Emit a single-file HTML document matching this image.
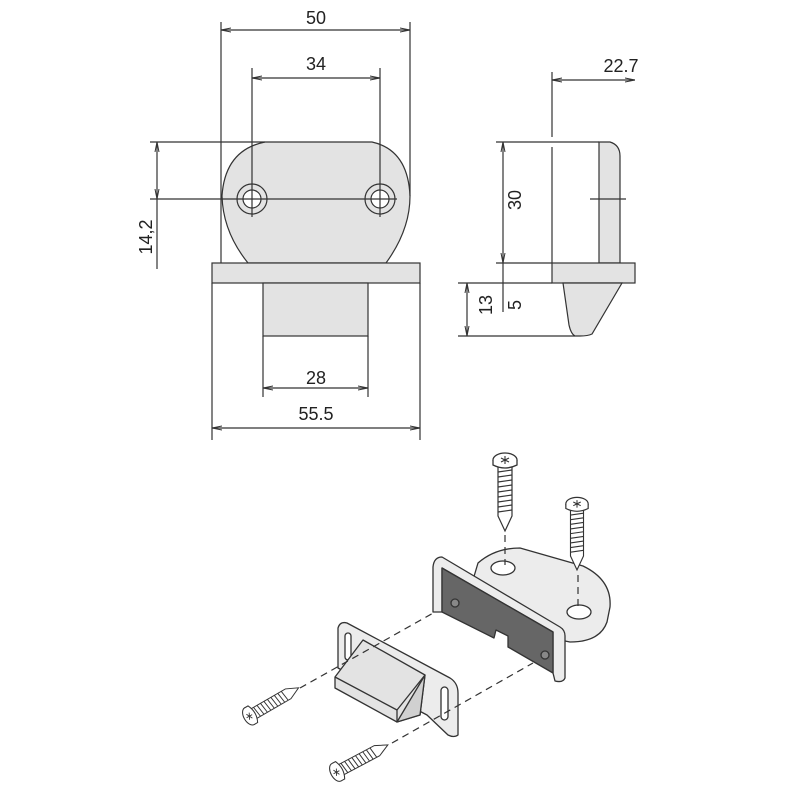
<!DOCTYPE html>
<html><head><meta charset="utf-8"><style>
html,body{margin:0;padding:0;background:#fff}
svg{display:block}
text{font-family:"Liberation Sans",sans-serif;font-size:18px;fill:#222}
</style></head><body>
<svg width="800" height="800" viewBox="0 0 800 800" xmlns="http://www.w3.org/2000/svg">
<defs>
<marker id="a" markerWidth="10" markerHeight="6" refX="10" refY="3" orient="auto-start-reverse" markerUnits="userSpaceOnUse"><path d="M0,1 L10,3 L0,5" fill="none" stroke="#333" stroke-width="1"/></marker>
<g id="scr">
<path d="M-7,8 L-7,58 L0,73 L7,58 L7,8 Z" fill="#fff" stroke="#333" stroke-width="1.2"/>
<g stroke="#333" stroke-width="1.2">
<path d="M-7,14 L7,12 M-7,19 L7,17 M-7,24 L7,22 M-7,29 L7,27 M-7,34 L7,32 M-7,39 L7,37 M-7,44 L7,42 M-7,49 L7,47 M-7,54 L7,52"/>
</g>
<ellipse cx="0" cy="2" rx="12" ry="7" fill="#fff" stroke="#333" stroke-width="1.3"/>
<path d="M-12,2 L-12,7 Q0,13 12,7 L12,2" fill="#fff" stroke="#333" stroke-width="1.3"/>
<path d="M-4,0 L4,4 M-4,4 L4,0 M0,-2 L0,6" stroke="#333" stroke-width="1.1"/>
</g>
</defs>
<g stroke="#333" stroke-width="1.2" fill="none">
<path d="M265,142 L372,142 Q408,150 410,196 Q410,230 386,263 L248,263 Q223,232 222,196 Q225,150 265,142 Z" fill="#e3e3e3"/>
<rect x="212" y="263" width="208" height="20" fill="#e3e3e3"/>
<rect x="263" y="283" width="105" height="53" fill="#e3e3e3"/>
<circle cx="252" cy="199" r="15"/><circle cx="252" cy="199" r="9" fill="#fff"/>
<circle cx="380" cy="199" r="15"/><circle cx="380" cy="199" r="9" fill="#fff"/>
<path d="M221,22 V263 M410,22 V196 M252,68 V217 M380,68 V217 M150,142 H265 M150,199 H397 M212,283 V440 M420,283 V440 M263,336 V397 M368,336 V397"/>
<path d="M221,30 H410" marker-start="url(#a)" marker-end="url(#a)"/>
<path d="M252,78 H380" marker-start="url(#a)" marker-end="url(#a)"/>
<path d="M157,142 V199" marker-start="url(#a)" marker-end="url(#a)"/>
<path d="M157,199 V269"/>
<path d="M263,388 H368" marker-start="url(#a)" marker-end="url(#a)"/>
<path d="M212,428 H420" marker-start="url(#a)" marker-end="url(#a)"/>
<path d="M599,142 L610,142 Q620,145 620,156 L620,263 L599,263 Z" fill="#e3e3e3"/>
<rect x="552" y="263" width="83" height="20" fill="#e3e3e3"/>
<path d="M563,283 L622,283 L592,334 Q588,336 580,336 L575,336 Q571,334 569,325 Z" fill="#e3e3e3"/>
<path d="M552,72 V137 M552,147 V263 M496,142 H599 M590,199 H626 M496,263 H552 M458,283 H552 M458,336 H575"/>
<path d="M552,80 H635" marker-start="url(#a)" marker-end="url(#a)"/>
<path d="M503,142 V263" marker-start="url(#a)" marker-end="url(#a)"/>
<path d="M503,263 V312"/>
<path d="M467,283 V336" marker-start="url(#a)" marker-end="url(#a)"/>
</g>
<text x="316" y="24" text-anchor="middle">50</text>
<text x="316" y="70" text-anchor="middle">34</text>
<text x="316" y="384" text-anchor="middle">28</text>
<text x="316" y="420" text-anchor="middle">55.5</text>
<text x="621" y="72" text-anchor="middle">22.7</text>
<text transform="translate(152,237) rotate(-90)" text-anchor="middle">14,2</text>
<text transform="translate(521,200) rotate(-90)" text-anchor="middle">30</text>
<text transform="translate(492,305) rotate(-90)" text-anchor="middle">13</text>
<text transform="translate(521,305) rotate(-90)" text-anchor="middle">5</text>

<g stroke="#333" stroke-width="1.3" stroke-linejoin="round">
<path d="M478,563 Q495,548 520,548 L583,566 Q612,580 610,607 L607,622 Q600,642 570,642 L560,640 L470,590 Z" fill="#ececec"/>
<ellipse cx="503" cy="568" rx="12" ry="7" fill="#fff"/>
<ellipse cx="579" cy="612" rx="12" ry="7" fill="#fff"/>
<path d="M433,567 Q434,557 442,557 L560,627 Q565,630 565,636 L565,678 Q563,683 555,681 L553,673 L553,632 L442,568 L442,612 L433,612 Z" fill="#ececec"/>
<path d="M442,568 L553,632 L553,673 L508,647 L508,636 L496,630 L494,638 L442,612 Z" fill="#666"/>
<circle cx="455" cy="603" r="4" fill="#888"/><circle cx="545" cy="655" r="4" fill="#888"/>
<path d="M338,668 L338,628 Q340,621 347,623 L450,678 Q458,683 458,693 L458,735 Q454,738 448,735 L427,715 Z" fill="#ececec"/>
<rect x="345" y="633" width="6" height="27" rx="3" fill="#fff"/>
<rect x="441" y="687" width="7" height="33" rx="3.5" fill="#fff"/>
<path d="M335,677 L363,640 L425,675 L420,715 L397,722 L335,688 Z" fill="#e3e3e3"/>
<path d="M397,722 L425,675 L420,715 Z" fill="#d0d0d0"/>
<path d="M335,677 L397,710 L425,675 M397,710 L397,722" fill="none"/>
</g>
<g stroke="#333" stroke-width="1.2" stroke-dasharray="7,5" fill="none">
<path d="M505,535 V565 M578,575 V610"/>
<path d="M300,688 L435,612"/>
<path d="M392,743 L533,663"/>
</g>
<use href="#scr" transform="translate(505,458)"/>
<use href="#scr" transform="translate(577,502) scale(0.93)"/>
<use href="#scr" transform="translate(248,717) rotate(-120) scale(0.8)"/>
<use href="#scr" transform="translate(335,773) rotate(-118) scale(0.82)"/>
</svg>
</body></html>
